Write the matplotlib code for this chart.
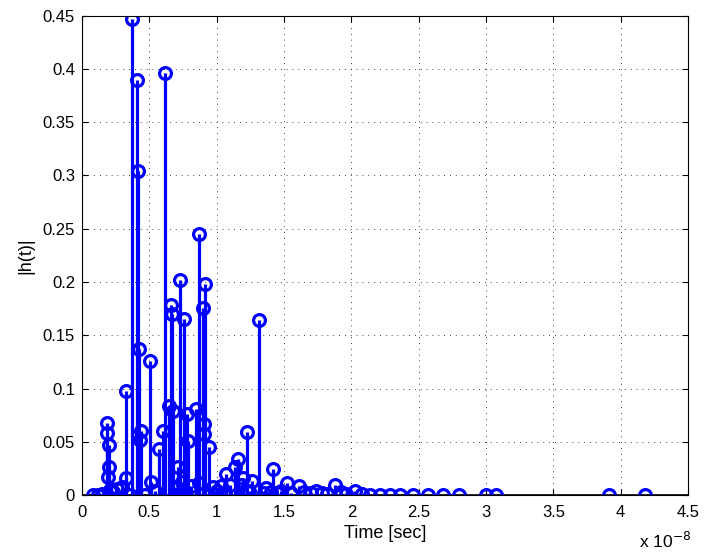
import numpy as np
import matplotlib
matplotlib.use("Agg")
from matplotlib import pyplot as plt
from matplotlib.ticker import FuncFormatter, MultipleLocator

plt.rcParams['font.family'] = ['Liberation Sans', 'DejaVu Sans']

# arrival times [ns] and |h(t)|
t_ns = [0.84, 1.2, 1.5, 1.83, 1.88, 1.95, 2.0, 2.03, 2.05, 2.3, 2.6, 3.0,
        3.26, 3.3, 3.6, 3.73, 4.06, 4.18, 4.21, 4.30, 4.40, 4.7, 5.07, 5.14,
        5.4, 5.73, 5.99, 6.16, 6.43, 6.58, 6.65, 6.77, 7.0, 7.10, 7.27, 7.4,
        7.59, 7.81, 7.85, 8.1, 8.46, 8.66, 8.68, 9.00, 9.05, 9.07, 9.12, 9.44,
        9.7, 10.0, 10.3, 10.6, 10.73, 11.0, 11.37, 11.62, 11.8, 11.97, 12.22,
        12.4, 12.61, 13.13, 13.5, 13.70, 14.0, 14.19, 14.5, 14.8, 15.19, 15.5,
        16.12, 16.5, 17.0, 17.41, 17.8, 18.2, 18.77, 19.2, 19.6, 20.25, 20.8,
        21.36, 22.1, 22.85, 23.59, 24.58, 25.69, 26.80, 27.97, 30.02, 30.76,
        39.17, 41.77]
h_abs = [0.0, 0.0, 0.001, 0.058, 0.068, 0.017, 0.026, 0.047, 0.005, 0.003, 0.006, 0.008,
         0.098, 0.016, 0.0, 0.447, 0.390, 0.304, 0.137, 0.052, 0.060, 0.0, 0.126, 0.012,
         0.004, 0.043, 0.060, 0.396, 0.084, 0.178, 0.170, 0.079, 0.008, 0.026, 0.202, 0.012,
         0.165, 0.076, 0.051, 0.009, 0.081, 0.011, 0.245, 0.176, 0.067, 0.057, 0.198, 0.045,
         0.008, 0.004, 0.009, 0.001, 0.0195, 0.010, 0.026, 0.034, 0.010, 0.016, 0.059,
         0.004, 0.013, 0.164, 0.002, 0.007, 0.003, 0.025, 0.002, 0.004, 0.011, 0.002,
         0.009, 0.003, 0.002, 0.004, 0.002, 0.001, 0.010, 0.003, 0.001, 0.004, 0.001,
         0.0, 0.0, 0.0, 0.0, 0.0, 0.0, 0.0, 0.0, 0.0, 0.0,
         0.0, 0.0]

t = np.array(t_ns) * 1e-9
h = np.array(h_abs)

fig = plt.figure(figsize=(7.05, 5.57), dpi=100)
ax = fig.add_axes([0.1163, 0.111, 0.8596, 0.861])

ml, sl, bl = ax.stem(t, h, linefmt='b-', markerfmt='bo', basefmt='k-')
plt.setp(sl, linewidth=2.3, color='#0000ff')
plt.setp(ml, markersize=8.5, markeredgewidth=2.3, markerfacecolor='none', color='#0000ff')
bl.set_visible(False)
ax.axhline(0, color='k', linewidth=1.2, zorder=1)

ax.set_xlim(0, 4.5e-8)
ax.set_ylim(0, 0.45)
ax.xaxis.set_major_locator(MultipleLocator(0.5e-8))
ax.yaxis.set_major_locator(MultipleLocator(0.05))
ax.xaxis.set_major_formatter(FuncFormatter(lambda v, p: f"{v / 1e-8:g}"))
ax.yaxis.set_major_formatter(FuncFormatter(lambda v, p: f"{v:g}"))

ax.grid(True, color='k', linestyle=(0, (1, 6)), linewidth=0.6)
ax.tick_params(direction='in', top=True, right=True, labelsize=12, length=4)
ax.tick_params(axis='x', pad=7)
ax.tick_params(axis='y', pad=5)
for s in ax.spines.values():
    s.set_linewidth(0.8)

ax.set_xlabel('Time [sec]', fontsize=13, labelpad=4)
ax.set_ylabel('|h(t)|', fontsize=13, labelpad=6)
fig.text(0.906, 0.016, r'x 10$^{-8}$', fontsize=12.5, va='baseline')

fig.savefig('out.png', dpi=100)
